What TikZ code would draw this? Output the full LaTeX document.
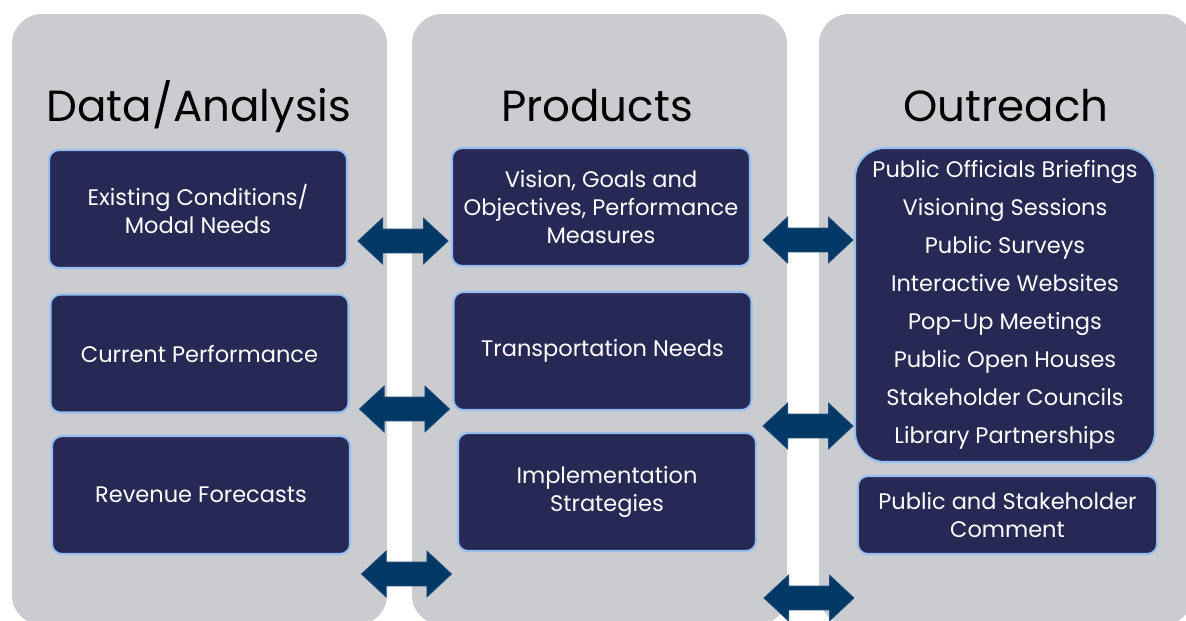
\documentclass[tikz,border=0pt]{standalone}
\usepackage{fontspec}
\setmainfont{Poppins}
\usetikzlibrary{shapes.arrows}

\definecolor{panelgrey}{RGB}{203,204,208}
\definecolor{boxnavy}{RGB}{38,41,84}
\definecolor{boxedge}{RGB}{150,190,240}
\definecolor{arrowblue}{RGB}{0,56,102}
\definecolor{arrowedge}{RGB}{30,75,122}

\tikzset{
  panel/.style={fill=panelgrey, rounded corners=0.75cm},
  heading/.style={anchor=base, font=\fontsize{31}{36}\selectfont},
  task/.style={draw=boxedge, line width=1.5pt, fill=boxnavy, text=white,
    rounded corners=0.25cm, minimum width=7.45cm, minimum height=2.95cm,
    align=center, inner sep=2pt, font=\fontsize{16}{20}\selectfont},
  link/.style={double arrow, fill=arrowblue, draw=arrowedge, line width=0.6pt,
    minimum height=2.25cm, text height=0.575cm, text depth=0pt, inner sep=0pt,
    double arrow head extend=0.275cm, double arrow tip angle=86},
}

\begin{document}
\begin{tikzpicture}[x=0.025cm, y=-0.025cm]
  \useasboundingbox (0,0) rectangle (1186,620);
  \clip (0,0) rectangle (1186,620);

  % the three columns
  \fill[panel] (12,14) rectangle (387,625);
  \fill[panel] (412,14) rectangle (787,625);
  \fill[panel] (819,14) rectangle (1193,625);

  \node[heading] (data) at (199,121) {Data/Analysis};
  \node[heading] (prod) at (597,121) {Products};
  \node[heading] (reach) at (1006,121) {Outreach};

  % data/analysis
  \node[task] (exist) at (198,209) {Existing Conditions/\\Modal Needs};
  \node[task] (perf) at (199.5,353.5) {Current Performance};
  \node[task] (revenue) at (201,495) {Revenue Forecasts};

  % products
  \node[task] (vision) at (601,207) {Vision, Goals and\\Objectives, Performance\\Measures};
  \node[task] (needs) at (602.5,351) {Transportation Needs};
  \node[task] (strat) at (607,492) {Implementation\\Strategies};

  % outreach
  \node[task, minimum width=7.5cm, minimum height=7.85cm, rounded corners=0.75cm,
    font=\fontsize{16}{27}\selectfont] (events) at (1005,305)
    {Public Officials Briefings\\Visioning Sessions\\Public Surveys\\Interactive Websites\\
     Pop-Up Meetings\\Public Open Houses\\Stakeholder Councils\\Library Partnerships};
  \node[task, minimum width=7.48cm, minimum height=1.95cm] (comment) at (1007.5,515)
    {Public and Stakeholder\\Comment};

  % two-way arrows between the columns
  \node[link] (dp1) at (403,241) {};
  \node[link] (dp2) at (404.5,409) {};
  \node[link] (dp3) at (406.5,574) {};
  \node[link] (po1) at (808,240) {};
  \node[link] (po2) at (808,426) {};
  \node[link] (po3) at (809,598) {};
\end{tikzpicture}
\end{document}
